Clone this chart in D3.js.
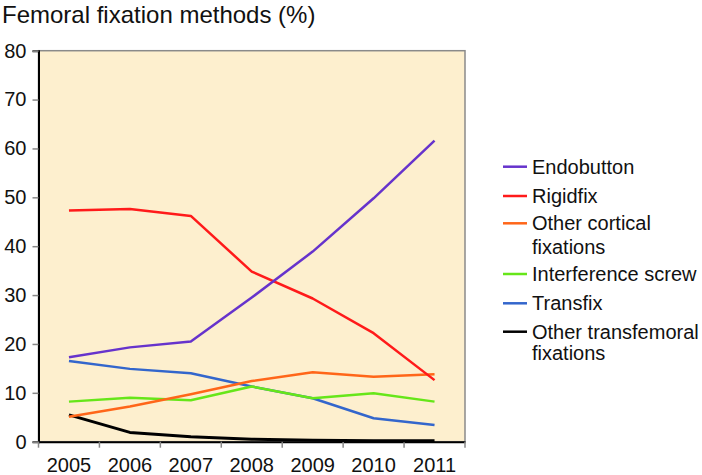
<!DOCTYPE html>
<html><head><meta charset="utf-8">
<script src="https://cdn.jsdelivr.net/npm/d3@7"></script>
<style>body{margin:0;background:#fff;} text{font-family:"Liberation Sans",Arial,sans-serif;}</style>
</head><body>
<svg id="c" width="702" height="475"></svg>
<script>
const years = ["2005","2006","2007","2008","2009","2010","2011"];
const seriesNames = ["Endobutton","Rigidfix","Other cortical fixations","Interference screw","Transfix","Other transfemoral fixations"];
const endobutton = [17.3,19.3,20.5,29.5,38.9,49.8,61.6];
const rigidfix = [47.3,47.6,46.2,34.8,29.3,22.2,12.6];
const otherCortical = [5.1,7.2,9.7,12.4,14.2,13.3,13.8];
const interference = [8.2,9.0,8.5,11.3,8.9,9.9,8.2];
const transfix = [16.5,14.9,14.0,11.3,8.9,4.8,3.4];
const otherTransfemoral = [5.5,1.9,1.0,0.5,0.3,0.2,0.2];
const yTicks = [0,10,20,30,40,50,60,70,80];
const colors = ["#6633cc","#ff1a1a","#ff6619","#66e619","#3366cc","#000000"];
const seriesData = [endobutton,rigidfix,otherCortical,interference,transfix,otherTransfemoral];

const svg = d3.select("#c");
const L=38.5, R=465, T=50.7, B=441.7;
const x = d3.scaleBand().domain(years).range([L,R]);
const y = d3.scaleLinear().domain([0,80]).range([B,T]);

svg.append("text").attr("x",2).attr("y",22.5).attr("font-size",24).attr("fill","#111").text("Femoral fixation methods (%)");

svg.append("rect").attr("x",L).attr("y",T).attr("width",R-L).attr("height",B-T).attr("fill","#fdefce").attr("stroke","#8a8a8a").attr("stroke-width",1.5);

// y axis
const ya = svg.append("g").attr("transform",`translate(${L},0)`).call(d3.axisLeft(y).tickValues(yTicks).tickSize(6).tickPadding(6));
ya.select(".domain").attr("stroke","#000").attr("stroke-width",2);
ya.selectAll(".tick line").attr("stroke","#888").attr("stroke-width",1.5);
ya.selectAll(".tick text").attr("font-size",20).attr("fill","#111").attr("font-family","Liberation Sans, Arial, sans-serif");

// x axis with ticks at band boundaries
const xa = svg.append("g").attr("transform",`translate(0,${B})`).call(d3.axisBottom(x).tickSize(0).tickPadding(16));
xa.select(".domain").attr("stroke","#000").attr("stroke-width",2);
xa.selectAll(".tick text").attr("font-size",20).attr("fill","#111").attr("font-family","Liberation Sans, Arial, sans-serif");
const bounds = years.map(d=>x(d)).concat([R]);
svg.append("g").selectAll("line").data(bounds).join("line")
  .attr("x1",d=>d).attr("x2",d=>d).attr("y1",B).attr("y2",B+6).attr("stroke","#888").attr("stroke-width",1.5);

const line = d3.line().x((d,i)=>x(years[i])+x.bandwidth()/2).y(d=>y(d));
const order = [5,4,3,2,1,0];
order.forEach(k=>{
  svg.append("path").datum(seriesData[k]).attr("d",line).attr("fill","none")
    .attr("stroke",colors[k]).attr("stroke-width",k===5?3:2.5).attr("stroke-linejoin","round");
});

// legend
const legendRows = [[166.7],[196],[223.3,246.7],[274],[303.3],[331.7,353.3]];
const legendLines = [["Endobutton"],["Rigidfix"],["Other cortical","fixations"],["Interference screw"],["Transfix"],["Other transfemoral","fixations"]];
const lg = svg.append("g");
seriesNames.forEach((n,i)=>{
  const ry = legendRows[i][0];
  lg.append("line").attr("x1",503).attr("x2",527).attr("y1",ry).attr("y2",ry).attr("stroke",colors[i]).attr("stroke-width",2.5);
  legendLines[i].forEach((t,j)=>{
    lg.append("text").attr("x",532).attr("y",legendRows[i][j]+7).attr("font-size",20).attr("fill","#111").text(t);
  });
});
</script>
</body></html>
